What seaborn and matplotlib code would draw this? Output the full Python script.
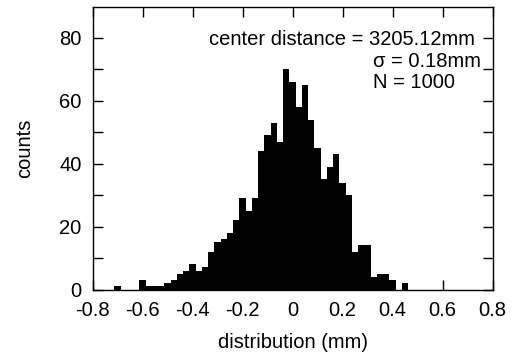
import numpy as np
import pandas as pd
import matplotlib
matplotlib.use("Agg")
import matplotlib.pyplot as plt
import seaborn as sns

# ---- data ----
bin_centers = [-0.7, -0.675, -0.65, -0.625, -0.6, -0.575, -0.55, -0.525, -0.5, -0.475,
               -0.45, -0.425, -0.4, -0.375, -0.35, -0.325, -0.3, -0.275, -0.25, -0.225,
               -0.2, -0.175, -0.15, -0.125, -0.1, -0.075, -0.05, -0.025, 0.0, 0.025,
               0.05, 0.075, 0.1, 0.125, 0.15, 0.175, 0.2, 0.225, 0.25, 0.275,
               0.3, 0.325, 0.35, 0.375, 0.4, 0.425, 0.45]
counts = [1, 0, 0, 0, 3, 1, 1, 1, 2, 3,
          5, 6, 8, 6, 7, 12, 15, 16, 18, 22,
          29, 25, 29, 44, 49, 53, 47, 70, 66, 58,
          65, 54, 45, 35, 39, 43, 34, 30, 12, 14,
          14, 4, 5, 5, 3, 0, 2]
bin_width = 0.025

x_ticks = [-0.8, -0.6, -0.4, -0.2, 0.0, 0.2, 0.4, 0.6, 0.8]
x_tick_labels = ["-0.8", "-0.6", "-0.4", "-0.2", "0", "0.2", "0.4", "0.6", "0.8"]
y_ticks = [0, 20, 40, 60, 80]
y_minor_ticks = [10, 30, 50, 70]
x_label = "distribution (mm)"
y_label = "counts"
annot_lines = ["center distance = 3205.12mm", "σ = 0.18mm", "N = 1000"]

# ---- style ----
sns.set_style("ticks")
plt.rcParams["font.family"] = ["Liberation Sans", "DejaVu Sans"]
plt.rcParams["axes.unicode_minus"] = False

fig = plt.figure(figsize=(5.16, 3.54), dpi=100)
ax = fig.add_axes([0.1793, 0.1822, 0.7752, 0.7994])

df = pd.DataFrame({"center": bin_centers, "count": counts})
edges = [c - bin_width / 2 for c in bin_centers] + [bin_centers[-1] + bin_width / 2]
sns.histplot(data=df, x="center", weights="count", bins=edges, element="step",
             fill=True, color="black", alpha=1, linewidth=0, ax=ax)

ax.set_xlim(-0.8, 0.8)
ax.set_ylim(0, 90)
ax.set_xticks(x_ticks)
ax.set_xticklabels(x_tick_labels)
ax.set_yticks(y_ticks)
ax.set_yticks(y_minor_ticks, minor=True)

for s in ax.spines.values():
    s.set_visible(True)
    s.set_linewidth(1.0)
    s.set_color("black")

ax.tick_params(which="both", direction="in", length=7, width=1.0, color="black",
               top=True, right=True, labelsize=14.5, labelcolor="black")
ax.tick_params(axis="x", pad=8.5)
ax.tick_params(axis="y", pad=8)

ax.set_xlabel(x_label, fontsize=14.5, labelpad=9, color="black")
ax.set_ylabel(y_label, fontsize=14.5, labelpad=18, color="black")

ax.text(0.73, 77.7, annot_lines[0], ha="right", va="baseline", fontsize=14.5, color="black")
ax.text(0.322, 70.8, annot_lines[1], ha="left", va="baseline", fontsize=14.5, color="black")
ax.text(0.322, 64.0, annot_lines[2], ha="left", va="baseline", fontsize=14.5, color="black")

fig.savefig("out.png", dpi=100)
